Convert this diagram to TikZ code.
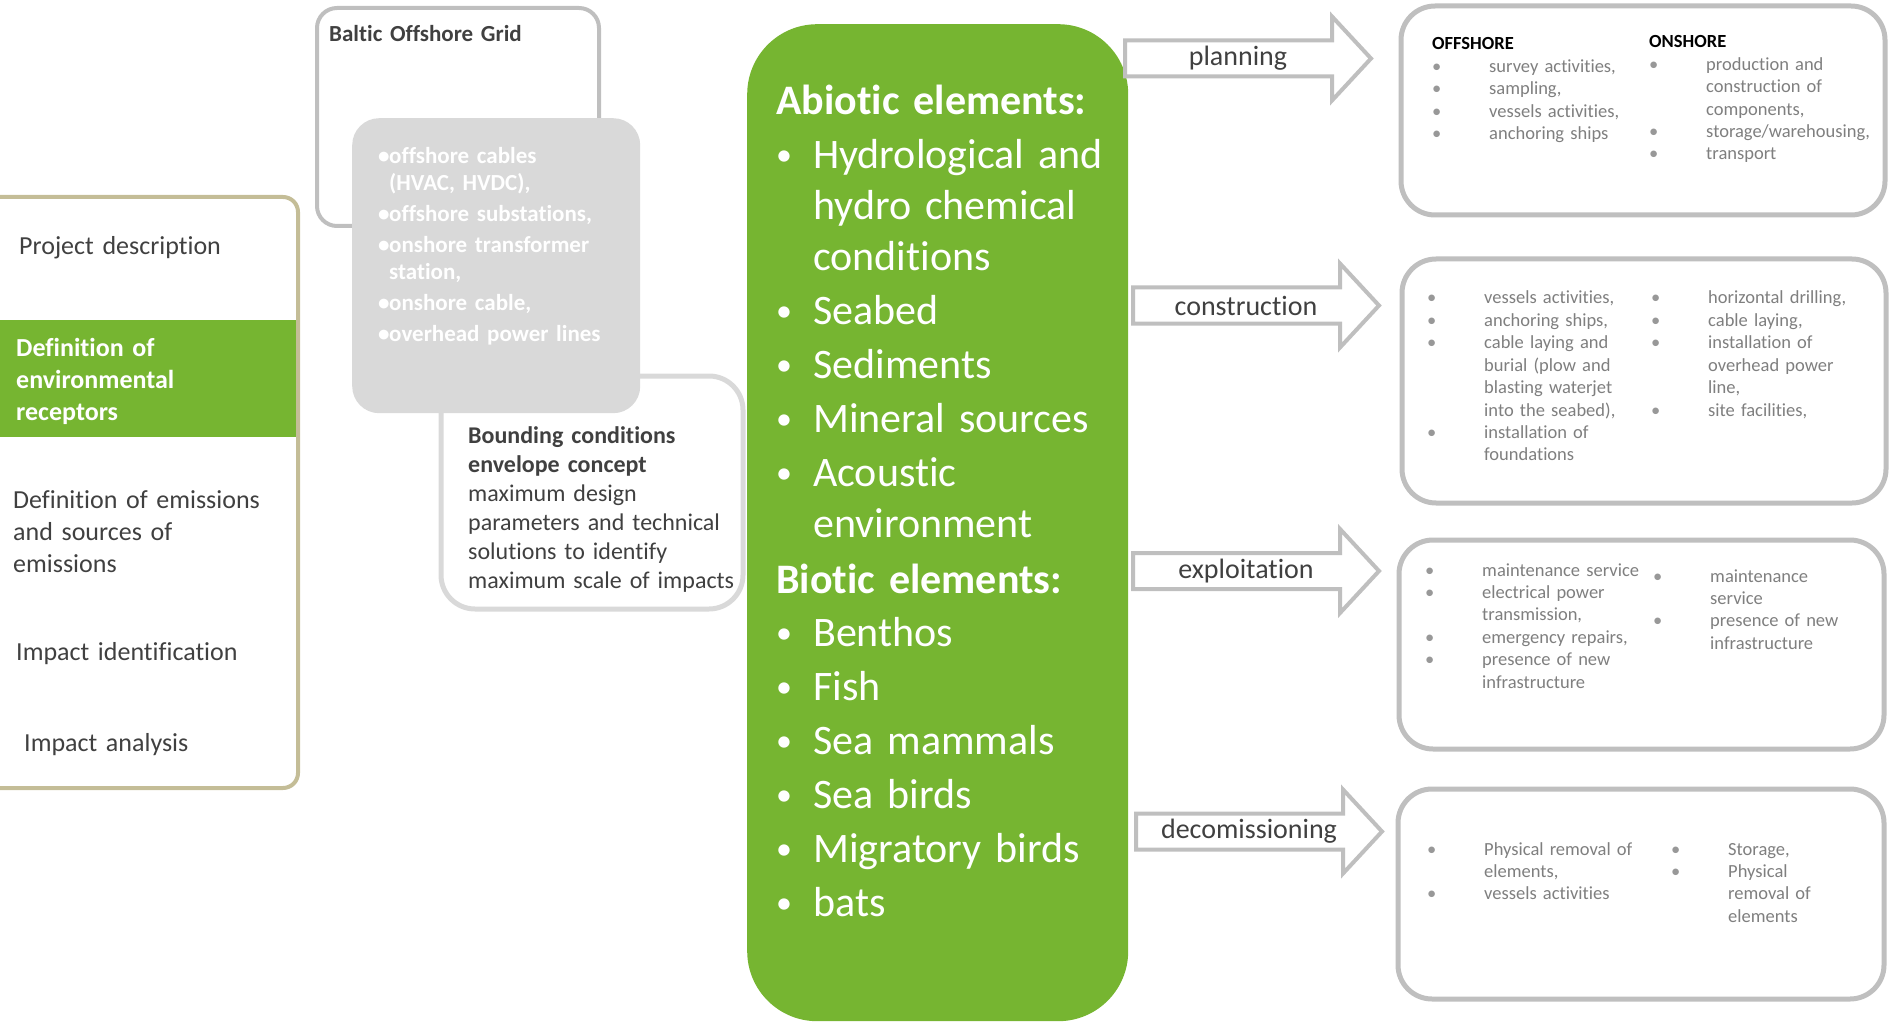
\documentclass[tikz,border=0pt]{standalone}
\usepackage{fontspec}
\setmainfont{Carlito}[Ligatures = NoCommon]
\usetikzlibrary{positioning}
\definecolor{envgreen}{HTML}{76B531}
\definecolor{tanline}{HTML}{C4BD97}
\definecolor{boxgrey}{HTML}{BFBFBF}
\definecolor{lightgrey}{HTML}{D9D9D9}
\definecolor{textdark}{HTML}{404040}
\definecolor{textgrey}{HTML}{7F7F7F}
\newcommand{\elbullet}{\makebox[37pt][l]{\raisebox{3pt}{\fontsize{32}{32}\selectfont\textbullet}}}
\newcommand{\elindent}{\hspace*{37pt}}
\newcommand{\phbullet}{\makebox[57pt][l]{\textcolor{textgrey!80}{\textbullet}}}
\newcommand{\phindent}{\hspace*{57pt}}
\newcommand{\cobullet}{\makebox[11pt][l]{\textbullet}}
\newcommand{\coindent}{\hspace*{11pt}}
\tikzset{
	stepband/.style  = {anchor = north west, fill = envgreen, inner sep = 0pt},
	stepframe/.style = {draw = tanline, line width = 4pt, rounded corners = 15pt},
	steptext/.style  = {
		anchor     = base west,
		inner sep  = 0pt,
		text width = 290pt,
		align      = left,
		text       = textdark,
		font       = \fontsize{26}{32}\selectfont
	},
	gridbox/.style   = {anchor = north west, draw = boxgrey, line width = 4pt, rounded corners = 20pt},
	boundbox/.style  = {anchor = north west, draw = lightgrey, fill = white, line width = 5pt, rounded corners = 34pt},
	compbox/.style   = {anchor = north west, fill = lightgrey, rounded corners = 27pt},
	elembox/.style   = {anchor = north west, fill = envgreen, rounded corners = 70pt},
	phasebox/.style  = {anchor = north west, draw = boxgrey, fill = white, line width = 5pt, rounded corners = 34pt},
	textblock/.style = {anchor = base west, inner sep = 0pt, text width = 360pt, align = left},
	phasetext/.style = {textblock, text = textgrey, font = \fontsize{18.5}{22.4}\selectfont},
	phaselabel/.style = {inner sep = 0pt, text = textdark, font = \fontsize{28}{34}\selectfont},
	arrowline/.style = {draw = boxgrey, fill = white, line width = 4pt}
}
\tikzset{
	phasearrow/.pic = {
		% shaft and head of the block arrow
		\path[pic actions]
		(0,-18) -- (207,-18) -- (207,-42) -- (246,0) --
		(207,42) -- (207,18) -- (0,18) -- cycle;
		% label on the shaft
		\node(-l) [phaselabel] at (113,0) {\tikzpictext};
	}
}

\begin{document}
\begin{tikzpicture}[x = 1pt, y = -1pt]
	\useasboundingbox (0,0) rectangle (1892,1024);
	% steps of the assessment
	\node(recband) [stepband, minimum width = 306pt, minimum height = 117pt] at (-10,320) {};
	\draw[stepframe] (-10,197) -- (298,197) -- (298,788) -- (-10,788);
	\node(project) [steptext] at (19,255) {Project description};
	\node(receptors) [steptext, text = white, font = \fontsize{26}{32}\selectfont\bfseries] at (16,356)
	{Definition of\\environmental\\receptors};
	\node(emissions) [steptext] at (13,508) {Definition of emissions\\and sources of\\emissions};
	\node(identification) [steptext] at (16,660) {Impact identification};
	\node(analysis) [steptext] at (24,751) {Impact analysis};
	
	% project: grid, components, bounding conditions
	\node(grid) [gridbox, minimum width = 282pt, minimum height = 218pt] at (315,6) {};
	\node(gridtitle) [textblock, text = textdark, font = \fontsize{23}{28}\selectfont\bfseries] at (329,42)
	{Baltic Offshore Grid};
	\node(bounding) [boundbox, minimum width = 302pt, minimum height = 233pt] at (438.5,373.5) {};
	\node(components) [compbox, minimum width = 288pt, minimum height = 295pt] at (352,118) {};
	\node(complist) [textblock, text = white, font = \fontsize{23}{27}\selectfont\bfseries] at (378,164)
	{\cobullet offshore cables\\ \coindent(HVAC, HVDC),\\[4pt]
		\cobullet offshore substations,\\[4pt]
		\cobullet onshore transformer\\ \coindent station,\\[4pt]
		\cobullet onshore cable,\\[4pt]
		\cobullet overhead power lines};
	\node(boundtext) [textblock, text = textdark, font = \fontsize{24}{29}\selectfont] at (468,443)
	{\textbf{Bounding conditions}\\\textbf{envelope concept}\\maximum design\\parameters and technical\\
		solutions to identify\\maximum scale of impacts};
	
	% environmental elements
	\node(elements) [elembox, minimum width = 381pt, minimum height = 997pt] at (747,24) {};
	\node(elemlist) [textblock, text = white, font = \fontsize{42}{51}\selectfont] at (776,115)
	{\textbf{Abiotic elements:}\\[3pt]
		\elbullet Hydrological and\\ \elindent hydro chemical\\ \elindent conditions\\[3pt]
		\elbullet Seabed\\[3pt]
		\elbullet Sediments\\[3pt]
		\elbullet Mineral sources\\[3pt]
		\elbullet Acoustic\\ \elindent environment\\[5pt]
		\textbf{Biotic elements:}\\[2pt]
		\elbullet Benthos\\[3pt]
		\elbullet Fish\\[3pt]
		\elbullet Sea mammals\\[3pt]
		\elbullet Sea birds\\[3pt]
		\elbullet Migratory birds\\[3pt]
		\elbullet bats};
	
	% phases
	\pic(planning) [arrowline, pic text = planning] at (1125,58.5) {phasearrow};
	\pic(construction) [arrowline, pic text = construction] at (1133,305.5) {phasearrow};
	\pic(exploitation) [arrowline, pic text = exploitation] at (1133,571) {phasearrow};
	\pic(decomissioning) [arrowline, pic text = decomissioning] at (1136,831.5) {phasearrow};
	
	\node(planbox) [phasebox, minimum width = 484pt, minimum height = 209pt] at (1398.5,3.5) {};
	\node(planoff) [phasetext] at (1432,50)
	{\textcolor{black}{\textbf{OFFSHORE}}\\
		\phbullet survey activities,\\ \phbullet sampling,\\
		\phbullet vessels activities,\\ \phbullet anchoring ships};
	\node(planon) [phasetext] at (1649,48)
	{\textcolor{black}{\textbf{ONSHORE}}\\
		\phbullet production and\\ \phindent construction of\\ \phindent components,\\
		\phbullet storage/warehousing,\\ \phbullet transport};
	
	\node(consbox) [phasebox, minimum width = 484pt, minimum height = 244pt] at (1399.5,256.5) {};
	\node(consoff) [phasetext] at (1427,304)
	{\phbullet vessels activities,\\ \phbullet anchoring ships,\\
		\phbullet cable laying and\\ \phindent burial (plow and\\ \phindent blasting waterjet\\ \phindent into the seabed),\\
		\phbullet installation of\\ \phindent foundations};
	\node(conson) [phasetext] at (1651,304)
	{\phbullet horizontal drilling,\\ \phbullet cable laying,\\
		\phbullet installation of\\ \phindent overhead power\\ \phindent line,\\
		\phbullet site facilities,};
	
	\node(explbox) [phasebox, minimum width = 485pt, minimum height = 209pt] at (1396.5,537.5) {};
	\node(exploff) [phasetext] at (1425,576)
	{\phbullet maintenance service\\
		\phbullet electrical power\\ \phindent transmission,\\
		\phbullet emergency repairs,\\
		\phbullet presence of new\\ \phindent infrastructure};
	\node(explon) [phasetext] at (1653,582)
	{\phbullet maintenance\\ \phindent service\\
		\phbullet presence of new\\ \phindent infrastructure};
	
	\node(decombox) [phasebox, minimum width = 486pt, minimum height = 210pt] at (1395.5,786.5) {};
	\node(decomoff) [phasetext] at (1427,855)
	{\phbullet Physical removal of\\ \phindent elements,\\
		\phbullet vessels activities};
	\node(decomon) [phasetext] at (1671,855)
	{\phbullet Storage,\\
		\phbullet Physical\\ \phindent removal of\\ \phindent elements};
\end{tikzpicture}
\end{document}
